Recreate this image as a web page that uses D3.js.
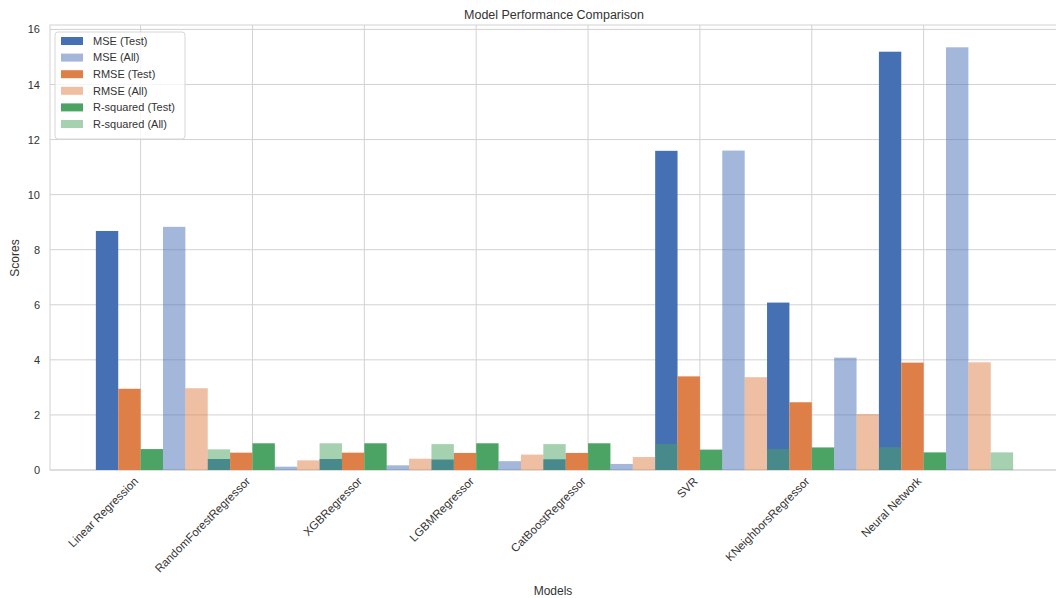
<!DOCTYPE html>
<html>
<head>
<meta charset="utf-8">
<script src="https://cdn.jsdelivr.net/npm/d3@7"></script>
<style>
  html, body { margin: 0; padding: 0; background: #fff; }
  svg { display: block; font-family: "Liberation Sans", Arial, Helvetica, sans-serif; }
</style>
</head>
<body>
<svg id="chart" width="1056" height="598"></svg>
<script>
// Models compared
const models = [
  "Linear Regression", "RandomForestRegressor", "XGBRegressor", "LGBMRegressor",
  "CatBoostRegressor", "SVR", "KNeighborsRegressor", "Neural Network"
];

// Metric values per model
const mseTest  = [8.68, 0.40, 0.40, 0.38, 0.39, 11.59, 6.08, 15.19];
const mseAll   = [8.83, 0.12, 0.17, 0.32, 0.22, 11.60, 4.08, 15.35];
const rmseTest = [2.95, 0.63, 0.63, 0.62, 0.62, 3.40, 2.46, 3.90];
const rmseAll  = [2.97, 0.35, 0.41, 0.56, 0.47, 3.37, 2.03, 3.91];
const r2Test   = [0.76, 0.97, 0.97, 0.97, 0.97, 0.74, 0.82, 0.64];
const r2All    = [0.75, 0.97, 0.94, 0.94, 0.95, 0.76, 0.83, 0.64];

const yTicks = [0, 2, 4, 6, 8, 10, 12, 14, 16];

// Series in drawing order: test metrics first, then the "All" metrics on top
const series = [
  { name: "MSE (Test)",       values: mseTest,  color: "#4570b3", alpha: 1,   slot: 0 },
  { name: "RMSE (Test)",      values: rmseTest, color: "#de7f47", alpha: 1,   slot: 1 },
  { name: "R-squared (Test)", values: r2Test,   color: "#4ba463", alpha: 1,   slot: 2 },
  { name: "MSE (All)",        values: mseAll,   color: "#4570b3", alpha: 0.5, slot: 3 },
  { name: "RMSE (All)",       values: rmseAll,  color: "#de7f47", alpha: 0.5, slot: 4 },
  { name: "R-squared (All)",  values: r2All,    color: "#4ba463", alpha: 0.5, slot: 5 }
];
const legendOrder = ["MSE (Test)", "MSE (All)", "RMSE (Test)", "RMSE (All)", "R-squared (Test)", "R-squared (All)"];

const svg = d3.select("#chart");
const W = 1056, H = 598;
const plotLeft = 50, plotRight = 1059, plotTop = 25, plotBottom = 470;
const textColor = "#333";
const gridColor = "#d2d2d2";

// Category index scale (bar width 0.2 of a category step)
const barW = 0.2;
const x = d3.scaleLinear().domain([-0.81, 8.21]).range([plotLeft, plotRight]);
const offset = d3.scaleLinear().domain([0, 5]).range([-1.5 * barW, 3.5 * barW]);
const y = d3.scaleLinear().domain([0, 16.16]).range([plotBottom, plotTop]);

svg.append("rect").attr("width", W).attr("height", H).attr("fill", "#fff");

const g = svg.append("g");

// Grid
g.append("g").selectAll("line").data(yTicks).join("line")
  .attr("x1", plotLeft).attr("x2", plotRight)
  .attr("y1", d => y(d)).attr("y2", d => y(d))
  .attr("stroke", gridColor).attr("stroke-width", 1);
g.append("g").selectAll("line").data(d3.range(models.length)).join("line")
  .attr("x1", d => x(d)).attr("x2", d => x(d))
  .attr("y1", plotTop).attr("y2", plotBottom)
  .attr("stroke", gridColor).attr("stroke-width", 1);

// Axes frame
g.append("rect")
  .attr("x", plotLeft).attr("y", plotTop)
  .attr("width", plotRight - plotLeft).attr("height", plotBottom - plotTop)
  .attr("fill", "none").attr("stroke", gridColor).attr("stroke-width", 1);

// Bars
series.forEach(s => {
  g.append("g").selectAll("rect").data(s.values).join("rect")
    .attr("x", (d, i) => x(i + offset(s.slot) - barW / 2))
    .attr("width", x(barW) - x(0))
    .attr("y", d => y(d))
    .attr("height", d => y(0) - y(d))
    .attr("fill", s.color)
    .attr("fill-opacity", s.alpha);
});

// Y axis tick labels
const yAxis = d3.axisLeft(y).tickValues(yTicks).tickSize(0).tickPadding(10).tickFormat(d3.format("d"));
const ya = svg.append("g").attr("transform", `translate(${plotLeft},0)`).call(yAxis);
ya.select(".domain").remove();
ya.selectAll("text").attr("fill", textColor).style("font-size", "11px")
  .style("font-family", "'Liberation Sans', Arial, sans-serif");

// X axis tick labels, rotated
const xAxis = d3.axisBottom(x).tickValues(d3.range(models.length)).tickSize(0).tickFormat(i => models[i]);
const xa = svg.append("g").attr("transform", `translate(0,${plotBottom})`).call(xAxis);
xa.select(".domain").remove();
xa.selectAll("text")
  .attr("fill", textColor).style("font-size", "11.5px")
  .style("font-family", "'Liberation Sans', Arial, sans-serif")
  .attr("text-anchor", "end")
  .attr("y", 0).attr("dy", 0)
  .attr("transform", "translate(-2,12) rotate(-45)");

// Title and axis labels
svg.append("text").attr("x", 554).attr("y", 19).attr("text-anchor", "middle")
  .attr("fill", textColor).style("font-size", "12.5px").text("Model Performance Comparison");
svg.append("text").attr("x", 553).attr("y", 595).attr("text-anchor", "middle")
  .attr("fill", textColor).style("font-size", "12px").text("Models");
svg.append("text").attr("transform", "translate(19,258) rotate(-90)").attr("text-anchor", "middle")
  .attr("fill", textColor).style("font-size", "12px").text("Scores");

// Legend
const lg = svg.append("g");
lg.append("rect").attr("x", 55).attr("y", 32).attr("width", 130).attr("height", 107).attr("rx", 3)
  .attr("fill", "#fff").attr("fill-opacity", 0.8).attr("stroke", "#d6d6d6");
const rowY = d3.scaleLinear().domain([0, 5]).range([41, 124]);
legendOrder.forEach((name, i) => {
  const s = series.find(d => d.name === name);
  lg.append("rect").attr("x", 61).attr("y", rowY(i) - 4).attr("width", 22).attr("height", 8)
    .attr("fill", s.color).attr("fill-opacity", s.alpha);
  lg.append("text").attr("x", 93).attr("y", rowY(i)).attr("dy", "0.35em")
    .attr("fill", textColor).style("font-size", "11px").text(name);
});
</script>
</body>
</html>
